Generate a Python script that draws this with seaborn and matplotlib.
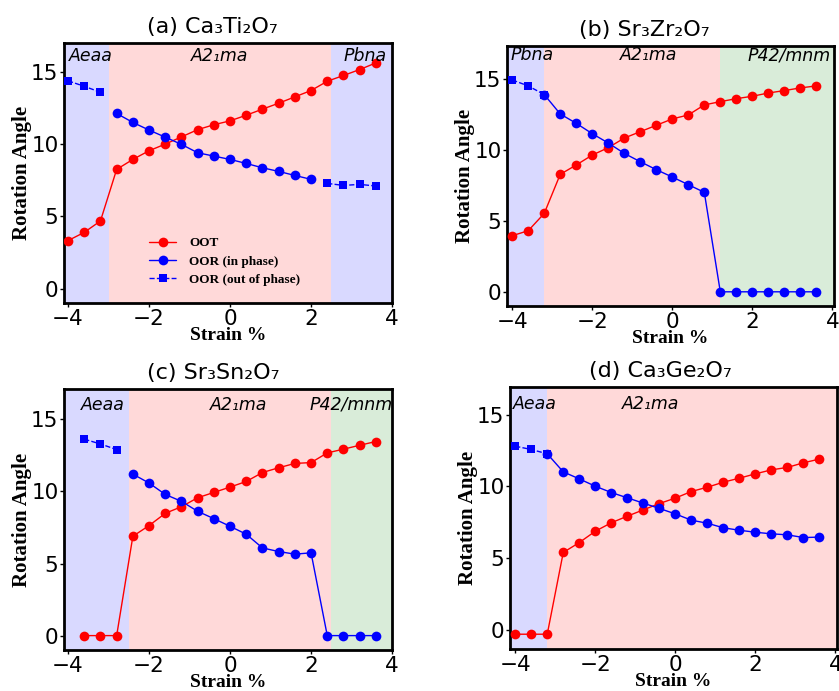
import numpy as np
import pandas as pd
import matplotlib
matplotlib.use("Agg")
import matplotlib.pyplot as plt
import seaborn as sns

sns.set_style("ticks")
plt.rcParams["font.family"] = ["DejaVu Sans"]
for key in ["text.color", "axes.labelcolor", "xtick.color", "ytick.color"]:
    plt.rcParams[key] = "black"

# ---------------- data ----------------
strain = [-4.0, -3.6, -3.2, -2.8, -2.4, -2.0, -1.6, -1.2, -0.8, -0.4,
          0.0, 0.4, 0.8, 1.2, 1.6, 2.0, 2.4, 2.8, 3.2, 3.6]

# (a) Ca3Ti2O7
a_oot = [3.32, 3.89, 4.68, 8.25, 8.94, 9.54, 10.0, 10.5, 11.0, 11.34,
         11.61, 12.0, 12.42, 12.83, 13.27, 13.71, 14.35, 14.75, 15.16, 15.62]
a_in_x = [-2.8, -2.4, -2.0, -1.6, -1.2, -0.8, -0.4, 0.0, 0.4, 0.8, 1.2, 1.6, 2.0]
a_in = [12.12, 11.5, 10.97, 10.48, 9.98, 9.4, 9.17, 8.94, 8.66, 8.36, 8.11, 7.83, 7.56]
a_out_x = [-4.0, -3.6, -3.2, 2.4, 2.8, 3.2, 3.6]
a_out = [14.38, 14.0, 13.59, 7.28, 7.14, 7.21, 7.10]

# (b) Sr3Zr2O7
b_oot = [3.96, 4.31, 5.53, 8.29, 8.95, 9.65, 10.17, 10.85, 11.3, 11.75,
         12.2, 12.48, 13.19, 13.42, 13.63, 13.8, 14.03, 14.2, 14.39, 14.53]
b_in_x = [-3.2, -2.8, -2.4, -2.0, -1.6, -1.2, -0.8, -0.4, 0.0, 0.4, 0.8,
          1.2, 1.6, 2.0, 2.4, 2.8, 3.2, 3.6]
b_in = [13.92, 12.55, 11.89, 11.16, 10.5, 9.77, 9.18, 8.62, 8.1, 7.56, 7.02,
        0.0, 0.0, 0.0, 0.0, 0.0, 0.0, 0.0]
b_out_x = [-4.0, -3.6, -3.2]
b_out = [14.95, 14.53, 13.92]

# (c) Sr3Sn2O7
c_x = [-3.6, -3.2, -2.8, -2.4, -2.0, -1.6, -1.2, -0.8, -0.4,
       0.0, 0.4, 0.8, 1.2, 1.6, 2.0, 2.4, 2.8, 3.2, 3.6]
c_oot = [0.0, 0.0, 0.0, 6.89, 7.63, 8.48, 8.94, 9.56, 9.93, 10.3, 10.69,
         11.31, 11.64, 11.94, 12.0, 12.67, 12.93, 13.2, 13.46]
c_in_x = [-2.4, -2.0, -1.6, -1.2, -0.8, -0.4, 0.0, 0.4, 0.8, 1.2, 1.6, 2.0,
          2.4, 2.8, 3.2, 3.6]
c_in = [11.2, 10.58, 9.79, 9.31, 8.62, 8.11, 7.58, 7.03, 6.08, 5.83, 5.65, 5.74,
        0.0, 0.0, 0.0, 0.0]
c_out_x = [-3.6, -3.2, -2.8]
c_out = [13.62, 13.29, 12.9]

# (d) Ca3Ge2O7
d_oot = [-0.3, -0.3, -0.3, 5.4, 6.09, 6.88, 7.47, 7.93, 8.37, 8.81,
         9.19, 9.65, 9.95, 10.3, 10.58, 10.88, 11.16, 11.33, 11.65, 11.91]
d_in_x = [-3.2, -2.8, -2.4, -2.0, -1.6, -1.2, -0.8, -0.4, 0.0, 0.4, 0.8,
          1.2, 1.6, 2.0, 2.4, 2.8, 3.2, 3.6]
d_in = [12.28, 11.02, 10.53, 10.02, 9.58, 9.21, 8.84, 8.47, 8.09, 7.65, 7.44,
        7.12, 6.95, 6.81, 6.7, 6.63, 6.44, 6.47]
d_out_x = [-4.0, -3.6, -3.2]
d_out = [12.81, 12.58, 12.28]

titles = ["(a) Ca\u2083Ti\u2082O\u2087", "(b) Sr\u2083Zr\u2082O\u2087",
          "(c) Sr\u2083Sn\u2082O\u2087", "(d) Ca\u2083Ge\u2082O\u2087"]

# phase regions: (start, end, colour)
phases_a = [(-4.2, -3.0, "blue"), (-3.0, 2.5, "red"), (2.5, 4.2, "blue")]
phases_b = [(-4.2, -3.2, "blue"), (-3.2, 1.2, "red"), (1.2, 4.2, "green")]
phases_c = [(-4.2, -2.5, "blue"), (-2.5, 2.5, "red"), (2.5, 4.2, "green")]
phases_d = [(-4.2, -3.2, "blue"), (-3.2, 4.2, "red")]

# phase labels: (x, y, text)
plabels_a = [(-3.44, 16.1, "Aeaa"), (-0.26, 16.1, "A2\u2081ma"), (3.33, 16.1, "Pbna")]
plabels_b = [(-3.5, 16.7, "Pbna"), (-0.58, 16.7, "A2\u2081ma"), (2.92, 16.7, "P42/mnm")]
plabels_c = [(-3.13, 16.0, "Aeaa"), (0.2, 16.0, "A2\u2081ma"), (3.0, 16.0, "P42/mnm")]
plabels_d = [(-3.52, 15.75, "Aeaa"), (-0.62, 15.75, "A2\u2081ma")]

# ---------------- figure ----------------
fig = plt.figure(figsize=(8.39, 6.91), dpi=100)
rects = [
    [0.0763, 0.5615, 0.3910, 0.3763],
    [0.6043, 0.5572, 0.3897, 0.3763],
    [0.0763, 0.0593, 0.3910, 0.3777],
    [0.6079, 0.0608, 0.3897, 0.3790],
]
xlims = [(-4.1, 4.0), (-4.13, 4.04), (-4.1, 4.0), (-4.13, 4.04)]
ylims = [(-1.0, 17.0), (-1.0, 17.35), (-1.0, 17.1), (-1.33, 16.93)]
title_x = [0.451, 0.42, 0.454, 0.459]

panels = [
    (strain, a_oot, a_in_x, a_in, a_out_x, a_out, phases_a, plabels_a),
    (strain, b_oot, b_in_x, b_in, b_out_x, b_out, phases_b, plabels_b),
    (c_x, c_oot, c_in_x, c_in, c_out_x, c_out, phases_c, plabels_c),
    (strain, d_oot, d_in_x, d_in, d_out_x, d_out, phases_d, plabels_d),
]

serif_bold = dict(family="Liberation Serif", weight="bold")


def segments(xs, ys, gap=0.45):
    runs, cur = [], [0]
    for i in range(1, len(xs)):
        if xs[i] - xs[i - 1] > gap:
            runs.append(cur)
            cur = []
        cur.append(i)
    runs.append(cur)
    return [([xs[i] for i in r], [ys[i] for i in r]) for r in runs]


for k, (ox, oot, ix, iv, qx, qv, phases, plabels) in enumerate(panels):
    ax = fig.add_axes(rects[k])
    for (x0, x1, col) in phases:
        ax.axvspan(x0, x1, color=col, alpha=0.15, lw=0, zorder=0)

    sns.lineplot(x=ox, y=oot, ax=ax, color="red", marker="o", markersize=7,
                 markeredgewidth=0, lw=1, legend=False, label="OOT", zorder=3)
    sns.lineplot(x=ix, y=iv, ax=ax, color="blue", marker="o", markersize=7,
                 markeredgewidth=0, lw=1, legend=False, label="OOR (in phase)", zorder=3)
    for j, (sx, sy) in enumerate(segments(qx, qv)):
        sns.lineplot(x=sx, y=sy, ax=ax, color="blue", marker="s", markersize=6,
                     markeredgewidth=0, lw=1, linestyle="--", legend=False,
                     label="OOR (out of phase)" if j == 0 else "_nolegend_", zorder=3)

    for (px, py, txt) in plabels:
        ax.text(px, py, txt, ha="center", va="center", fontsize=12.5,
                style="italic", color="black", zorder=4)

    ax.set_xlim(*xlims[k])
    ax.set_ylim(*ylims[k])
    ax.set_xticks([-4, -2, 0, 2, 4])
    ax.set_yticks([0, 5, 10, 15])
    ax.tick_params(labelsize=15.5, length=3, width=1, pad=1)
    for s in ax.spines.values():
        s.set_linewidth(2)
        s.set_color("black")
    ax.set_xlabel("Strain %", fontsize=14, labelpad=-1, **serif_bold)
    ax.set_ylabel("Rotation Angle", fontsize=15, labelpad=-1, **serif_bold)
    ax.set_title(titles[k], fontsize=16, x=title_x[k], pad=7)

    if k == 0:
        h, l = ax.get_legend_handles_labels()
        ax.legend(h, l, loc="center", bbox_to_anchor=(0.49, 0.16), frameon=False,
                  prop=dict(family="Liberation Serif", weight="bold", size=9.5),
                  handlelength=2.0, handletextpad=1.0, labelspacing=0.45)

fig.savefig("out.png", dpi=100)
